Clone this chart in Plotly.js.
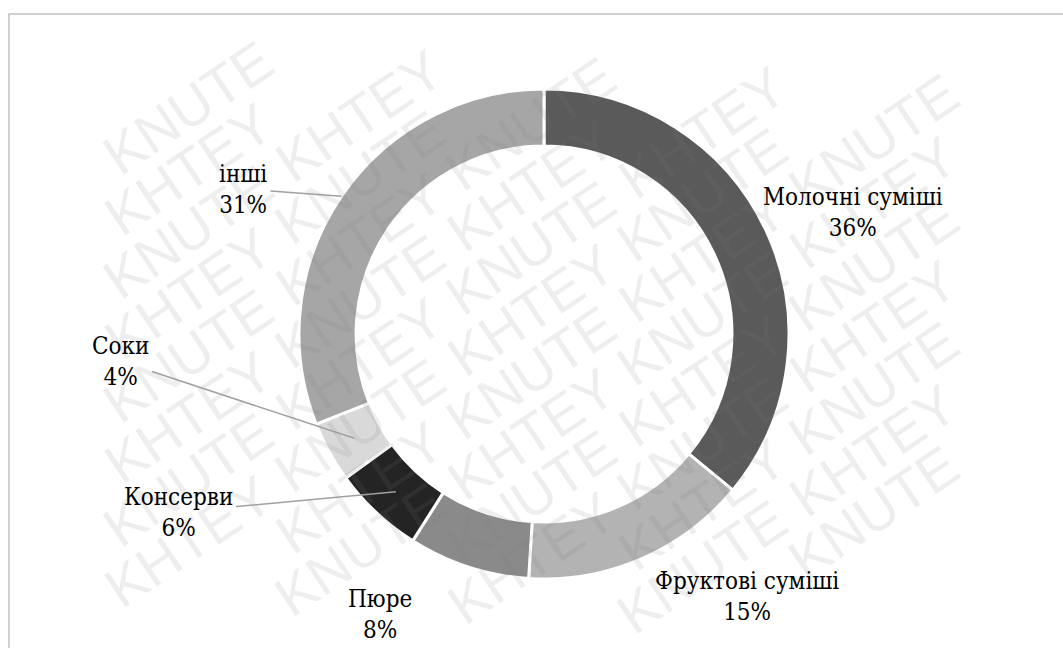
<!DOCTYPE html>
<html>
<head>
<meta charset="utf-8">
<script src="https://cdn.plot.ly/plotly-3.0.1.min.js"></script>
<style>html,body{margin:0;padding:0;background:#fff;}#chart{width:1063px;height:648px;}</style>
</head>
<body>
<div id="chart"></div>
<script>
// ---- data ----
const categories = ['Молочні суміші', 'Фруктові суміші', 'Пюре', 'Консерви', 'Соки', 'інші'];
const shares = [36, 15, 8, 6, 4, 31];
const sliceColors = ['#5a5a5a', '#b3b3b3', '#8a8a8a', '#242424', '#d9d9d9', '#a6a6a6'];
const watermarkWords = ['KNUTE', 'KHTEY'];

// ---- layout geometry (pixels) ----
const W = 1063, H = 648;
const CX = 544, CY = 334, R = 245, HOLE = 0.767;

// label text centres and leader-line anchor radius, null = no leader
const labelPlacement = [
  {tx: 853, ty: 212, lead: null},
  {tx: 747, ty: 596, lead: null},
  {tx: 380, ty: 614, lead: null},
  {tx: 178, ty: 512, lead: 'mid'},
  {tx: 120, ty: 361, lead: 'mid'},
  {tx: 243, ty: 189, lead: 'outer'}
];

const total = shares.reduce((a, b) => a + b, 0);
const annotations = [];

// watermark: individual words on diagonal rows, only those fully inside the canvas
const wmDeg = 34, wmSize = 56;
const cA = Math.cos(wmDeg * Math.PI / 180), sA = Math.sin(wmDeg * Math.PI / 180);
const wordLen = 3.39 * wmSize, wordH = 1.05 * wmSize, step = wordLen + 0.3 * wmSize;
const hw = (wordLen / 2) * cA + (wordH / 2) * sA;
const hh = (wordLen / 2) * sA + (wordH / 2) * cA;
for (let k = -12; k <= 22; k++) {
  for (let j = -8; j <= 8; j++) {
    const cx = 531 + j * step * cA;
    const cy = k * 62 - j * step * sA;
    if (cx - hw < 3 || cx + hw > W - 3 || cy - hh < 3 || cy + hh > H - 3) continue;
    annotations.push({
      xref: 'paper', yref: 'paper', x: cx / W, y: 1 - cy / H,
      text: watermarkWords[Math.abs(j + k) % 2], showarrow: false, textangle: -wmDeg,
      xanchor: 'center', yanchor: 'middle',
      font: {family: 'Liberation Sans', size: wmSize, color: 'rgba(120,120,120,0.13)'}
    });
  }
}

// data labels
const labelFont = {family: 'DejaVu Serif Condensed, DejaVu Serif', size: 24, color: '#000000'};
let cum = 0;
categories.forEach((cat, i) => {
  const frac = shares[i] / total;
  const midDeg = (cum + frac / 2) * 360;
  cum += frac;
  const p = labelPlacement[i];
  const text = cat + '<br>' + shares[i] + '%';
  if (p.lead) {
    const rr = p.lead === 'outer' ? R : R * (1 + HOLE) / 2;
    const th = midDeg * Math.PI / 180;
    const px = CX + rr * Math.sin(th);
    const py = CY - rr * Math.cos(th);
    annotations.push({
      xref: 'paper', yref: 'paper', x: px / W, y: 1 - py / H,
      ax: p.tx - px, ay: p.ty - py,
      text: text, align: 'center', showarrow: true, arrowhead: 0,
      arrowwidth: 1.5, arrowcolor: '#a0a0a0', standoff: 0, startstandoff: 2,
      font: labelFont
    });
  } else {
    annotations.push({
      xref: 'paper', yref: 'paper', x: p.tx / W, y: 1 - p.ty / H,
      xanchor: 'center', yanchor: 'middle',
      text: text, align: 'center', showarrow: false, font: labelFont
    });
  }
});

const trace = {
  type: 'pie',
  labels: categories,
  values: shares,
  sort: false,
  direction: 'clockwise',
  rotation: 0,
  hole: HOLE,
  textinfo: 'none',
  hoverinfo: 'skip',
  marker: {colors: sliceColors, line: {color: '#ffffff', width: 3}},
  domain: {
    x: [(CX - R) / W, (CX + R) / W],
    y: [(H - CY - R) / H, (H - CY + R) / H]
  },
  showlegend: false
};

const layout = {
  width: W, height: H,
  margin: {l: 0, r: 0, t: 0, b: 0},
  paper_bgcolor: '#ffffff',
  plot_bgcolor: '#ffffff',
  showlegend: false,
  annotations: annotations,
  shapes: [{
    type: 'rect', xref: 'paper', yref: 'paper',
    x0: 9 / W, x1: 1.02, y0: -0.02, y1: 1 - 14 / H,
    line: {color: '#d0d0d0', width: 2}, layer: 'below'
  }]
};

Plotly.newPlot('chart', [trace], layout, {staticPlot: true, displayModeBar: false});
</script>
</body>
</html>
